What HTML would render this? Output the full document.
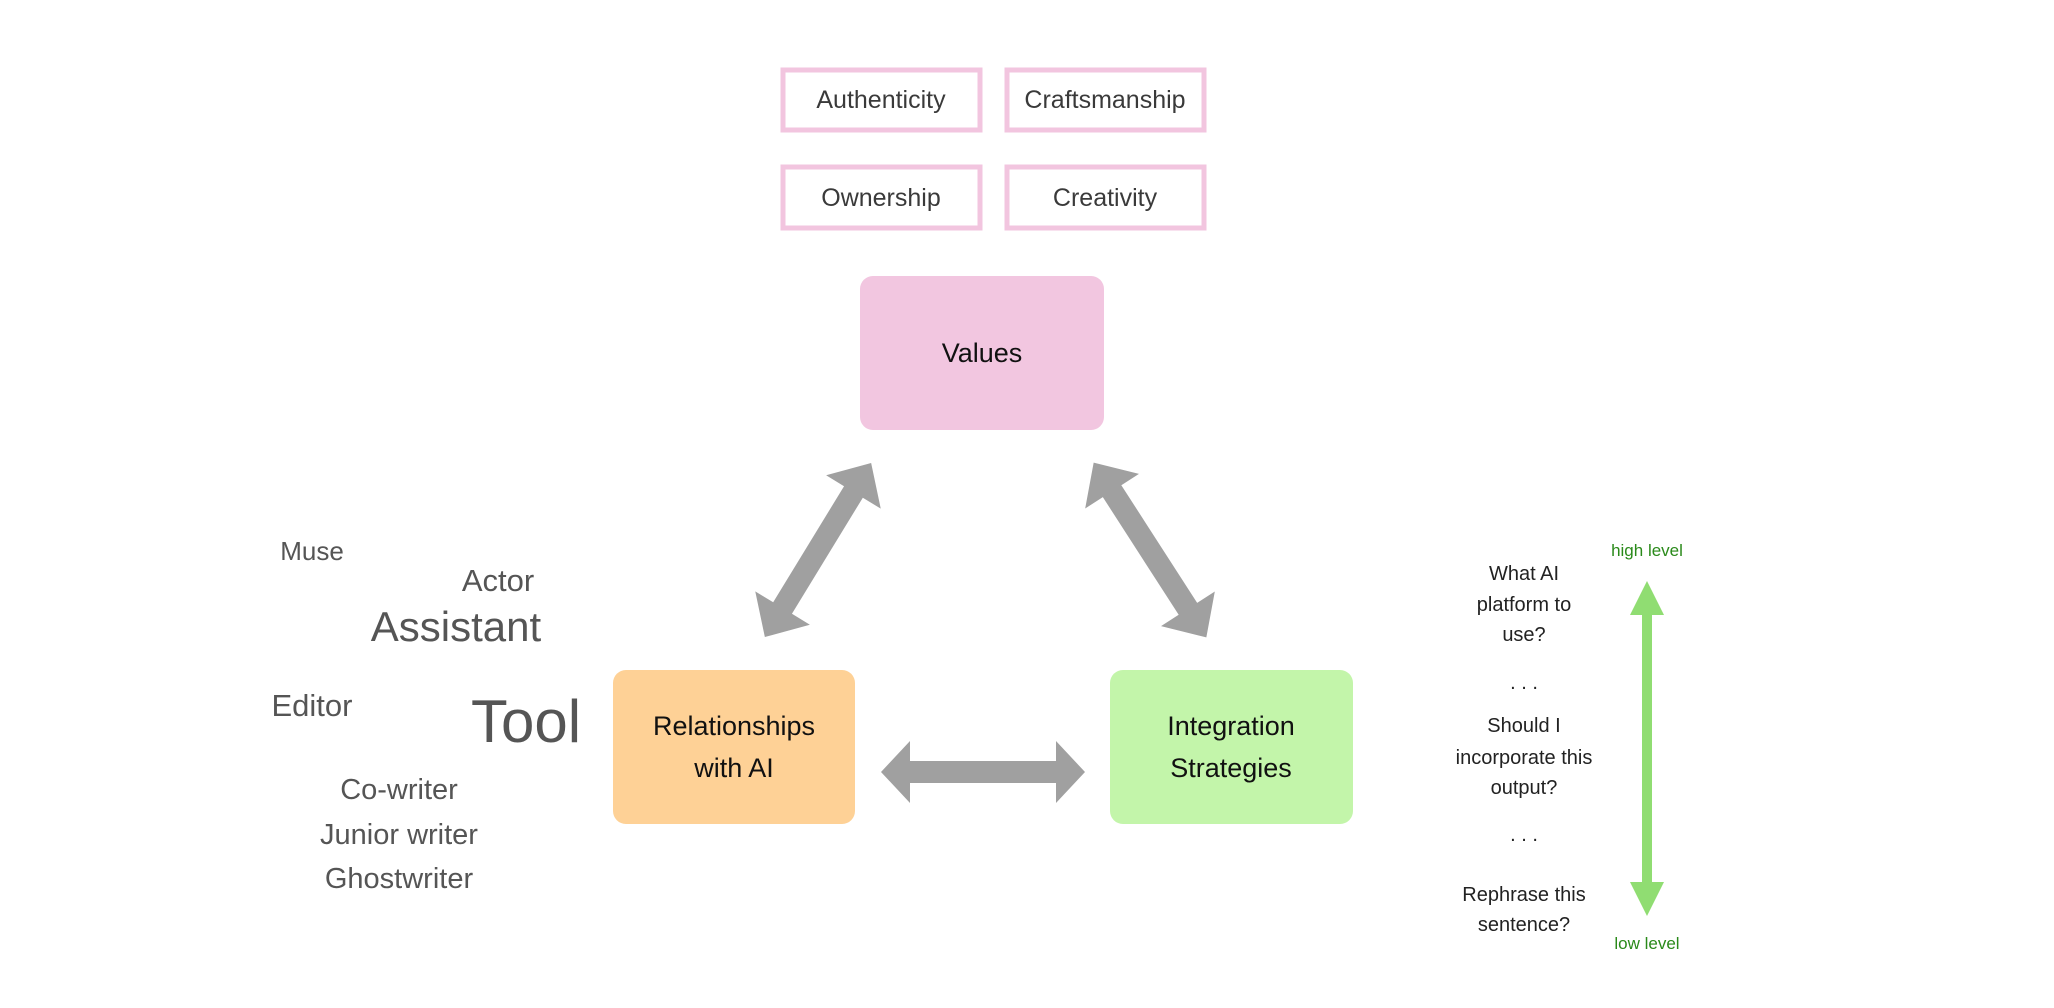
<!DOCTYPE html>
<html><head><meta charset="utf-8"><style>
html,body{margin:0;padding:0;background:#fff;width:2054px;height:1008px;overflow:hidden}
svg{display:block}
</style></head><body>
<svg width="2054" height="1008" viewBox="0 0 2054 1008" xmlns="http://www.w3.org/2000/svg">
<g transform="translate(-5,-2)">
<g fill="#fff" stroke="#f2c5df" stroke-width="5">
<rect x="788" y="72" width="197" height="60"/>
<rect x="1012" y="72" width="197" height="60"/>
<rect x="788" y="169" width="197" height="61"/>
<rect x="1012" y="169" width="197" height="61"/>
</g>
<g font-family="Liberation Sans, sans-serif" font-size="25" fill="#3a3a3a" text-anchor="middle">
<text x="886" y="110">Authenticity</text>
<text x="1110" y="110">Craftsmanship</text>
<text x="886" y="208">Ownership</text>
<text x="1110" y="208">Creativity</text>
</g>
<rect x="865" y="278" width="244" height="154" rx="13" fill="#f2c6e0"/>
<rect x="618" y="672" width="242" height="154" rx="13" fill="#fed196"/>
<rect x="1115" y="672" width="243" height="154" rx="13" fill="#c3f5aa"/>
<g font-family="Liberation Sans, sans-serif" font-size="27" fill="#111" text-anchor="middle">
<text x="987" y="364">Values</text>
<text x="739" y="737">Relationships</text>
<text x="739" y="779">with AI</text>
<text x="1236" y="737">Integration</text>
<text x="1236" y="779">Strategies</text>
</g>
<g fill="#a0a0a0">
<path transform="translate(988,774)" d="M-102,0 L-73,-31 L-73,-11 L73,-11 L73,-31 L102,0 L73,31 L73,11 L-73,11 L-73,31 Z"/>
<path transform="translate(823,552) rotate(-58.6)" d="M-102,0 L-68,-32 L-68,-11 L68,-11 L68,-32 L102,0 L68,32 L68,11 L-68,11 L-68,32 Z"/>
<path transform="translate(1155,552) rotate(57.2)" d="M-104,0 L-70,-32 L-70,-11 L70,-11 L70,-32 L104,0 L70,32 L70,11 L-70,11 L-70,32 Z"/>
</g>
<g transform="translate(-4,0)">
<path fill="#90dd72" d="M1656,583 L1673,617 L1661,617 L1661,884 L1673,884 L1656,918 L1639,884 L1651,884 L1651,617 L1639,617 Z"/>
<g font-family="Liberation Sans, sans-serif" font-size="17" fill="#2a8a1a" text-anchor="middle">
<text x="1656" y="558">high level</text>
<text x="1656" y="951">low level</text>
</g>
<g font-family="Liberation Sans, sans-serif" font-size="20" fill="#222" text-anchor="middle">
<text x="1533" y="582">What AI</text>
<text x="1533" y="613">platform to</text>
<text x="1533" y="643">use?</text>
<text x="1533" y="691">. . .</text>
<text x="1533" y="734">Should I</text>
<text x="1533" y="766">incorporate this</text>
<text x="1533" y="796">output?</text>
<text x="1533" y="843">. . .</text>
<text x="1533" y="903">Rephrase this</text>
<text x="1533" y="933">sentence?</text>
</g>
</g>
<g font-family="Liberation Sans, sans-serif" fill="#555" text-anchor="middle">
<text x="317" y="562" font-size="26">Muse</text>
<text x="503" y="593" font-size="31">Actor</text>
<text x="461" y="643" font-size="42">Assistant</text>
<text x="317" y="718" font-size="31">Editor</text>
<text x="531" y="744" font-size="60">Tool</text>
<text x="404" y="801" font-size="29">Co-writer</text>
<text x="404" y="846" font-size="29">Junior writer</text>
<text x="404" y="890" font-size="29">Ghostwriter</text>
</g>
</g>
</svg>
</body></html>
